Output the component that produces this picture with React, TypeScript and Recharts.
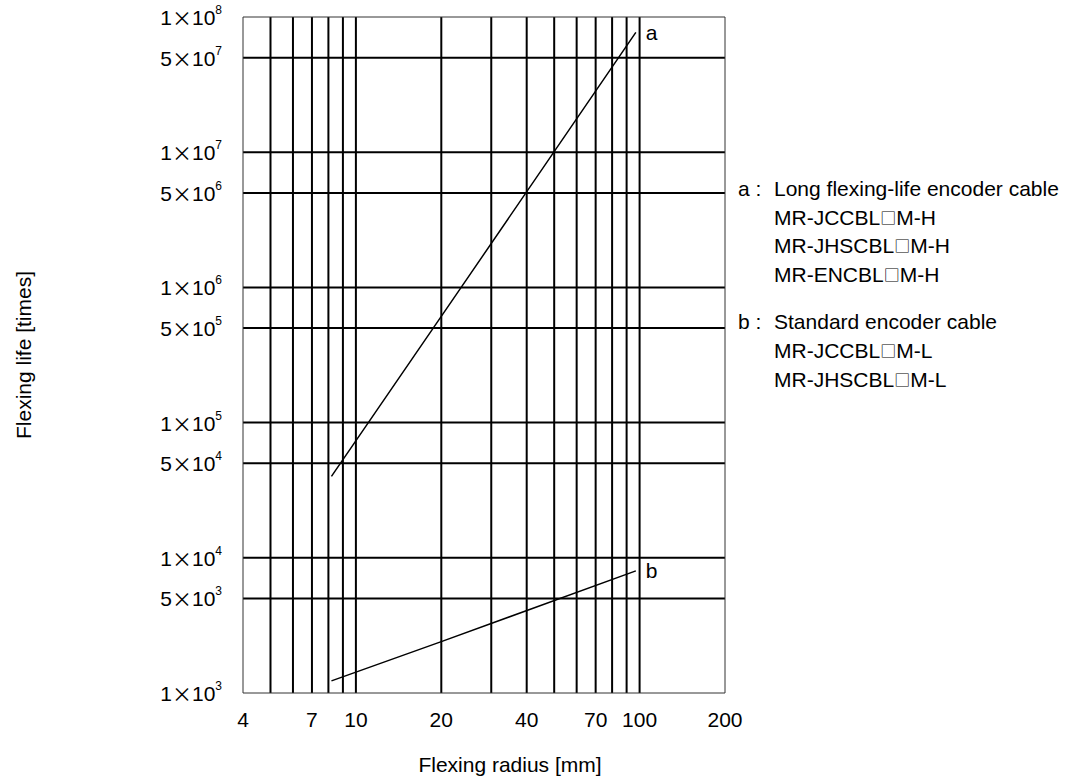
import { LineChart, Line, XAxis, YAxis, ReferenceLine, LabelList } from 'recharts';

const FONT = '"Liberation Sans", Arial, sans-serif';
const CJK = '"Noto Sans CJK JP", sans-serif';

// axis ticks and grid positions
const xTicks = [4, 7, 10, 20, 40, 70, 100, 200];
const xGrid = [5, 6, 7, 8, 9, 10, 20, 30, 40, 50, 60, 70, 80, 90, 100];
const yTicks = [1e3, 5e3, 1e4, 5e4, 1e5, 5e5, 1e6, 5e6, 1e7, 5e7, 1e8];
const yGrid = [5e3, 1e4, 5e4, 1e5, 5e5, 1e6, 5e6, 1e7, 5e7];

// a: long flexing-life cable
const radiusA = [8.2, 23.5, 97];
const lifeA = [40000, 1000000, 77000000];
// b: standard cable
const radiusB = [8.2, 20, 97];
const lifeB = [1230, 2400, 8000];

const legendA = ['Long flexing-life encoder cable', 'MR-JCCBL\u25A1M-H', 'MR-JHSCBL\u25A1M-H', 'MR-ENCBL\u25A1M-H'];
const legendB = ['Standard encoder cable', 'MR-JCCBL\u25A1M-L', 'MR-JHSCBL\u25A1M-L'];

const dataA = radiusA.map((r, i) => ({ r, life: lifeA[i] }));
const dataB = radiusB.map((r, i) => ({ r, life: lifeB[i] }));

function PowerTick({ x, y, payload }: any) {
  const v = payload.value;
  const exp = Math.floor(Math.log10(v) + 1e-9);
  const mant = Math.round(v / Math.pow(10, exp));
  return (
    <text x={x} y={y} textAnchor="end" dominantBaseline="central" fontSize={21} fill="#000" fontFamily={FONT}>
      <tspan>{mant}</tspan>
      <tspan fontFamily={CJK} fontSize={20}>×</tspan>
      <tspan>10</tspan>
      <tspan dy={-7} fontSize={12}>{exp}</tspan>
    </text>
  );
}

// text with the □ glyph drawn from the CJK font
function CableText({ x, y, t }: { x: number; y: number; t: string }) {
  const parts = t.split('\u25A1');
  return (
    <text x={x} y={y} dominantBaseline="central">
      {parts.map((p, i) => (
        <tspan key={i}>
          {p}
          {i < parts.length - 1 ? (
            <tspan fontFamily={CJK} fontSize={16}>
              {'\u25A1'}
            </tspan>
          ) : null}
        </tspan>
      ))}
    </text>
  );
}

const endLabel = (name: string, last: number) => (props: any) =>
  props.index === last ? (
    <text x={props.x + 10} y={props.y} dominantBaseline="central" fontSize={21} fill="#000" fontFamily={FONT}>
      {name}
    </text>
  ) : null;

export default function App() {
  return (
    <div style={{ position: 'absolute', left: 0, top: 0, width: 1067, height: 779, background: '#fff' }}>
      <LineChart width={1067} height={779} margin={{ top: 17, right: 342, left: 0, bottom: 0 }}>
        <XAxis
          dataKey="r"
          type="number"
          scale="log"
          domain={[4, 200]}
          ticks={xTicks}
          interval={0}
          allowDataOverflow
          height={86}
          tickLine={false}
          tickSize={0}
          tickMargin={19}
          axisLine={{ stroke: '#333', strokeWidth: 1 }}
          tick={{ fontSize: 21, fill: '#000', fontFamily: FONT }}
        />
        <YAxis
          dataKey="life"
          type="number"
          scale="log"
          domain={[1e3, 1e8]}
          ticks={yTicks}
          interval={0}
          allowDataOverflow
          width={243}
          tickLine={false}
          tickSize={0}
          tickMargin={21}
          axisLine={{ stroke: '#333', strokeWidth: 1 }}
          tick={<PowerTick />}
        />
        {xGrid.map((v) => (
          <ReferenceLine key={'x' + v} x={v} stroke="#000" strokeWidth={2} />
        ))}
        {yGrid.map((v) => (
          <ReferenceLine key={'y' + v} y={v} stroke="#000" strokeWidth={2} />
        ))}
        <ReferenceLine x={200} stroke="#333" strokeWidth={1} />
        <ReferenceLine y={1e8} stroke="#333" strokeWidth={1} />
        <Line data={dataA} dataKey="life" stroke="#000" strokeWidth={1.5} dot={false} isAnimationActive={false}>
          <LabelList content={endLabel('a', radiusA.length - 1)} />
        </Line>
        <Line data={dataB} dataKey="life" stroke="#000" strokeWidth={1.5} dot={false} isAnimationActive={false}>
          <LabelList content={endLabel('b', radiusB.length - 1)} />
        </Line>
      </LineChart>
      <svg width={1067} height={779} style={{ position: 'absolute', left: 0, top: 0, pointerEvents: 'none' }} fontFamily={FONT} fontSize={21} fill="#000">
        <text x={510} y={772} textAnchor="middle">Flexing radius [mm]</text>
        <text x={31} y={355} textAnchor="middle" transform="rotate(-90 31 355)">Flexing life [times]</text>
        <text x={738} y={188} dominantBaseline="central">a :</text>
        {legendA.map((t, i) => (
          <CableText key={t} x={774} y={188 + i * 28.5} t={t} />
        ))}
        <text x={738} y={321} dominantBaseline="central">b :</text>
        {legendB.map((t, i) => (
          <CableText key={t} x={774} y={321 + i * 29} t={t} />
        ))}
      </svg>
    </div>
  );
}
